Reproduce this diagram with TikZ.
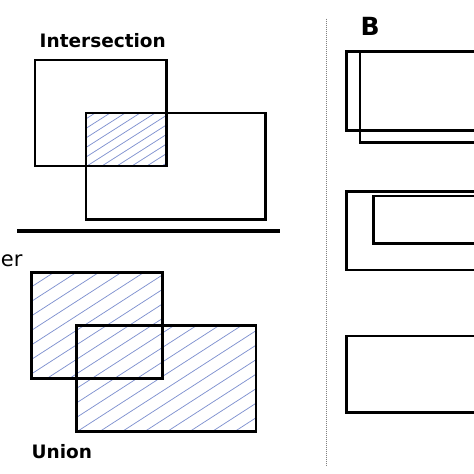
\documentclass[tikz,border=0pt]{standalone}
\usepackage{fontspec}
\setmainfont{DejaVu Sans}
\begin{document}
\begin{tikzpicture}[x=1pt,y=-1pt,
  box/.style={draw=black,line width=2.5pt},
  hatch/.style={draw={rgb,255:red,128;green,146;blue,208},line width=0.75pt},
  lbl/.style={font=\bfseries\fontsize{18.5}{22}\selectfont,inner sep=0pt,anchor=base west},
  rlbl/.style={font=\fontsize{21}{25}\selectfont,inner sep=0pt,anchor=base east},
  panel/.style={font=\bfseries\fontsize{25}{30}\selectfont,inner sep=0pt,anchor=base west}]
\useasboundingbox (0,0) rectangle (474,474);
\clip (0,0) rectangle (474,474);
% --- Intersection hatch
\begin{scope}
  \clip (86,113) rectangle (166.5,166);
  \foreach \k in {-20,...,70} \draw[hatch] (-391+15*\k,480) -- ++(600,-382.2);
\end{scope}
% --- Union hatch
\begin{scope}
  \clip (31.7,272.7) rectangle (162.7,378.3) (76.7,325.7) rectangle (256,431.3);
  \foreach \k in {-30,...,30} \draw[hatch] (24.5+22.5*\k,480) -- ++(1000,-645);
\end{scope}
% --- Intersection boxes
\draw[box] (35,60) rectangle (166.5,166);
\draw[box] (86,113) rectangle (265.5,219.3);
\node[lbl] (tint) at (39.5,47.3) {Intersection};
% --- separator
\coordinate (sepL) at (17,231);
\coordinate (sepR) at (280,231);
\draw[line width=3.5pt] (sepL) -- (sepR);
\node[rlbl] (ter) at (22.7,266) {er};
% --- Union boxes
\draw[box] (31.7,272.7) rectangle (162.7,378.3);
\draw[box] (76.7,325.7) rectangle (256,431.3);
\node[lbl] (tuni) at (31.5,458) {Union};
% --- dotted divider
\coordinate (dT) at (326.7,18.5);
\coordinate (dB) at (326.7,465);
\draw[gray,line width=1pt,dash pattern=on 1pt off 1pt] (dT) -- (dB);
% --- panel B
\node[panel] (tB) at (360.5,35) {B};
\draw[box] (346.7,51.7) rectangle (480,130.7);
\draw[box] (360,51.7) rectangle (480,142.3);
\draw[box] (346.7,191.7) rectangle (480,270);
\draw[box] (373.3,196) rectangle (480,243.3);
\draw[box] (346.7,336) rectangle (480,412.3);
\end{tikzpicture}
\end{document}
